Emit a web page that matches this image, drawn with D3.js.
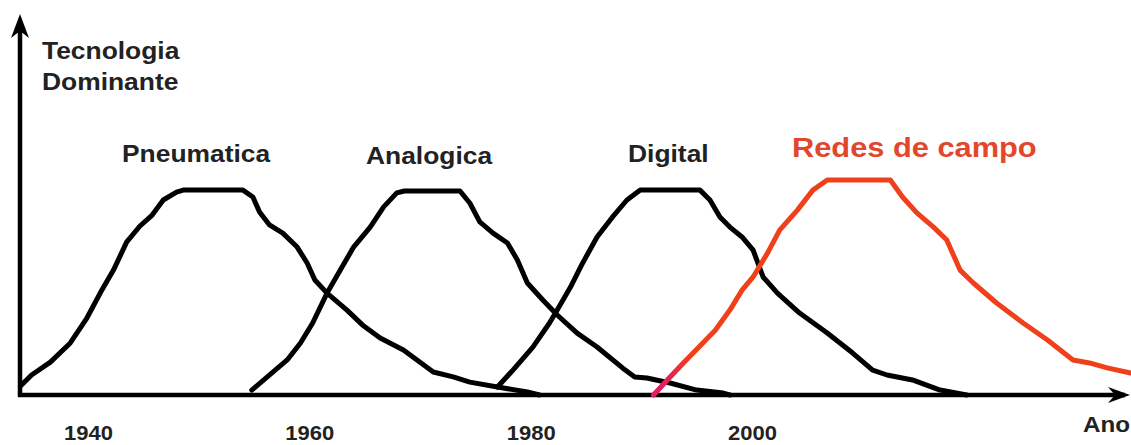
<!DOCTYPE html>
<html>
<head>
<meta charset="utf-8">
<script src="https://cdn.jsdelivr.net/npm/d3@7"></script>
<style>
  body { margin: 0; background: #fff; }
  svg text { font-family: "Liberation Sans", Arial, sans-serif; font-weight: bold; }
</style>
</head>
<body>
<svg id="chart" width="1131" height="445"></svg>
<script>
// anos e "dominancia" (%)
var pneumaticaYears = [1933.9, 1934.9, 1936.6, 1938.4, 1939.9, 1941.1, 1942.3, 1943.5, 1944.7, 1945.8, 1946.8, 1948.0, 1948.6, 1954.0, 1954.9, 1955.5, 1956.4, 1957.6, 1958.9, 1959.8, 1960.5, 1961.6, 1963.4, 1964.8, 1966.4, 1968.5, 1971.2, 1973.0, 1974.5, 1977.0, 1979.7, 1980.8];
var pneumaticaDom   = [4.2, 9.3, 15.3, 24.2, 35.8, 47.4, 58.1, 71.2, 78.6, 83.7, 90.7, 94.4, 95.3, 95.3, 92.1, 85.1, 79.1, 75.3, 68.8, 61.4, 53.5, 47.4, 39.5, 32.6, 26.5, 20.9, 10.7, 8.4, 6.0, 3.7, 1.4, 0];

var analogicaYears = [1954.8, 1956.2, 1958.0, 1959.2, 1960.3, 1961.6, 1962.8, 1964.0, 1965.5, 1966.7, 1967.9, 1968.6, 1973.6, 1974.5, 1975.4, 1976.6, 1977.9, 1978.8, 1979.7, 1981.1, 1982.4, 1984.2, 1986.0, 1988.3, 1989.4, 1990.5, 1992.6, 1995.0, 1997.4, 1998.0];
var analogicaDom   = [2.3, 8.4, 16.3, 24.2, 33.5, 47.4, 58.1, 68.8, 78.1, 87.4, 94.0, 94.9, 94.9, 89.3, 80.5, 75.3, 70.7, 62.8, 52.1, 44.2, 37.2, 28.8, 22.3, 12.6, 8.4, 7.9, 5.6, 2.3, 0.9, 0];

var digitalYears = [1977.0, 1978.4, 1980.2, 1981.7, 1982.4, 1983.6, 1984.7, 1986.0, 1987.4, 1988.7, 1989.9, 1995.3, 1996.2, 1997.1, 1998.0, 1999.1, 2000.1, 2001.0, 2002.3, 2004.3, 2006.8, 2009.1, 2010.9, 2012.2, 2014.5, 2017.0, 2019.4];
var digitalDom   = [3.7, 11.6, 22.3, 33.5, 39.5, 50.2, 61.4, 73.5, 82.8, 90.7, 95.3, 95.3, 90.7, 82.8, 78.1, 73.5, 67.4, 54.9, 47.4, 38.1, 28.8, 19.5, 11.6, 9.3, 7.0, 2.3, 0];

var redesYears = [1991.1, 1992.6, 1993.8, 1996.7, 1998.0, 1999.1, 2000.1, 2001.4, 2002.5, 2004.1, 2005.5, 2006.8, 2012.5, 2013.6, 2014.9, 2016.4, 2017.6, 2018.8, 2020.0, 2022.1, 2024.5, 2026.7, 2029.0, 2030.5, 2032.1, 2034.2];
var redesDom   = [0, 8.4, 14.9, 30.2, 39.5, 48.8, 54.9, 66.0, 76.7, 86.0, 95.3, 100, 100, 92.1, 84.7, 78.1, 72.1, 58.1, 52.1, 42.8, 33.5, 25.6, 16.3, 14.9, 12.6, 10.2];

var seriesNames = ["Pneumatica", "Analogica", "Digital", "Redes de campo"];
var tickYears = [1940, 1960, 1980, 2000];
var yTitle = ["Tecnologia", "Dominante"];
var xTitle = "Ano";

var svg = d3.select("#chart");
var W = 1131, H = 445;
var originX = 20, baseY = 395;

var x = d3.scaleLinear().domain([1940, 2000]).range([88, 752]);
var y = d3.scaleLinear().domain([0, 100]).range([baseY, 180]);

function zipSeries(xs, ys) {
    return xs.map(function(v, i) { return [v, ys[i]]; });
}
var series = [
    { name: seriesNames[0], pts: zipSeries(pneumaticaYears, pneumaticaDom), color: "#000" },
    { name: seriesNames[1], pts: zipSeries(analogicaYears, analogicaDom), color: "#000" },
    { name: seriesNames[2], pts: zipSeries(digitalYears, digitalDom), color: "#000" },
    { name: seriesNames[3], pts: zipSeries(redesYears, redesDom), color: "url(#redGrad)" }
];

// gradiente: inicio rosado da curva vermelha
var grad = svg.append("defs").append("linearGradient")
    .attr("id", "redGrad")
    .attr("gradientUnits", "userSpaceOnUse")
    .attr("x1", x(1992.0)).attr("x2", x(1994.5))
    .attr("y1", 0).attr("y2", 0);
grad.append("stop").attr("offset", 0).attr("stop-color", "#e21e5c");
grad.append("stop").attr("offset", 1).attr("stop-color", "#ef3f1b");

// eixos com setas
var axisG = svg.append("g");
axisG.append("line")
    .attr("x1", originX).attr("y1", baseY + 2)
    .attr("x2", originX).attr("y2", 22)
    .attr("stroke", "#000").attr("stroke-width", 4.5);
axisG.append("path")
    .attr("d", "M" + originX + ",14 L" + (originX + 9) + ",38 L" + originX + ",31 L" + (originX - 9) + ",38 Z")
    .attr("fill", "#000");
axisG.append("line")
    .attr("x1", originX - 2).attr("y1", baseY)
    .attr("x2", W - 6).attr("y2", baseY)
    .attr("stroke", "#000").attr("stroke-width", 4.5);
axisG.append("path")
    .attr("d", "M" + (W - 1) + "," + baseY + " L" + (W - 23) + "," + (baseY - 8) + " L" + (W - 16) + "," + baseY + " L" + (W - 23) + "," + (baseY + 8) + " Z")
    .attr("fill", "#000");

// curvas
var line = d3.line()
    .x(function(d) { return x(d[0]); })
    .y(function(d) { return y(d[1]); })
    .curve(d3.curveLinear);

svg.append("g").selectAll("path")
    .data(series).enter()
    .append("path")
    .attr("d", function(d) { return line(d.pts); })
    .attr("fill", "none")
    .attr("stroke", function(d) { return d.color; })
    .attr("stroke-width", 5)
    .attr("stroke-linejoin", "round")
    .attr("stroke-linecap", "round");

// rotulos do eixo x
var xAxis = d3.axisBottom(x)
    .tickValues(tickYears)
    .tickFormat(d3.format("d"))
    .tickSize(0)
    .tickPadding(31);
var xg = svg.append("g")
    .attr("transform", "translate(0," + baseY + ")")
    .call(xAxis);
xg.select(".domain").remove();
xg.selectAll("text")
    .attr("font-size", 20)
    .attr("font-family", null)
    .attr("fill", "#222")
    .attr("transform", "scale(1.1,1)");

// textos (esticados horizontalmente como na figura)
var stretch = 1.1;
var labels = [
    { t: yTitle[0], x: 42, y: 59, size: 24, color: "#222" },
    { t: yTitle[1], x: 42, y: 90, size: 24, color: "#222" },
    { t: seriesNames[0], x: 122, y: 162, size: 24, color: "#222" },
    { t: seriesNames[1], x: 366, y: 164, size: 24, color: "#222" },
    { t: seriesNames[2], x: 628, y: 162, size: 24, color: "#222" },
    { t: seriesNames[3], x: 792, y: 157, size: 28, color: "#e2472b" },
    { t: xTitle, x: 1083, y: 432, size: 22, color: "#222" }
];
svg.append("g").selectAll("text")
    .data(labels).enter()
    .append("text")
    .attr("transform", function(d) { return "translate(" + d.x + "," + d.y + ") scale(" + stretch + ",1)"; })
    .attr("font-size", function(d) { return d.size; })
    .attr("fill", function(d) { return d.color; })
    .text(function(d) { return d.t; });
</script>
</body>
</html>
